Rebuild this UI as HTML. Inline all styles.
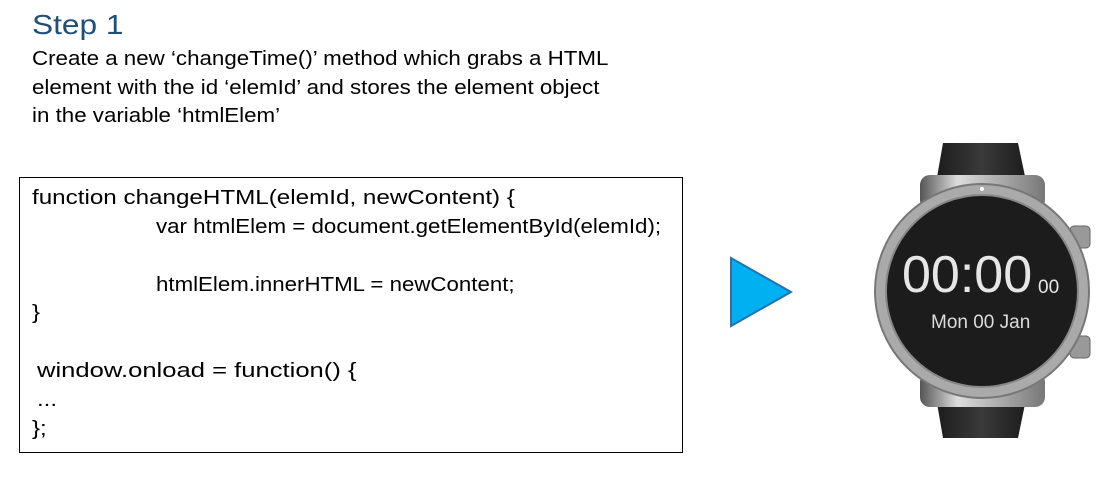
<!DOCTYPE html>
<html><head><style>
body{margin:0;width:1111px;height:477px;background:#fff;font-family:"Liberation Sans",sans-serif;position:relative;overflow:hidden}
.t{position:absolute;white-space:nowrap;transform-origin:0 0}
.p{font-size:20px;transform:scaleX(1.116)}
.c{font-size:20px;transform:scaleX(1.2)}
</style></head><body>
<div class="t" style="left:32px;top:9px;font-size:28px;color:#1f4e79;transform:scaleX(1.13)">Step 1</div>
<div class="t p" style="left:32px;top:48px">Create a new ‘changeTime()’ method which grabs a HTML</div>
<div class="t p" style="left:32px;top:77px">element with the id ‘elemId’ and stores the element object</div>
<div class="t p" style="left:32px;top:105px">in the variable ‘htmlElem’</div>
<div style="position:absolute;left:19px;top:177px;width:664px;height:276px;border:1px solid #000;box-sizing:border-box"></div>
<div class="t c" style="left:32px;top:187px;transform:scaleX(1.21)">function changeHTML(elemId, newContent) {</div>
<div class="t c" style="left:156px;top:216px;transform:scaleX(1.115)">var htmlElem = document.getElementById(elemId);</div>
<div class="t c" style="left:156px;top:274px;transform:scaleX(1.113)">htmlElem.innerHTML = newContent;</div>
<div class="t c" style="left:32px;top:302px">}</div>
<div class="t c" style="left:37px;top:360px;transform:scaleX(1.28)">window.onload = function() {</div>
<div class="t c" style="left:37px;top:389px">...</div>
<div class="t c" style="left:32px;top:418px">};</div>
<svg width="1111" height="477" style="position:absolute;left:0;top:0">
<polygon points="731,258 791,292 731,326" fill="#00b0f0" stroke="#2e6fa8" stroke-width="2"/>
<defs>
<linearGradient id="st" x1="0" x2="1"><stop offset="0" stop-color="#1a1a1a"/><stop offset="0.5" stop-color="#3a3a3a"/><stop offset="1" stop-color="#1a1a1a"/></linearGradient>
<linearGradient id="lg" x1="0" x2="1"><stop offset="0" stop-color="#555"/><stop offset="0.3" stop-color="#ddd"/><stop offset="1" stop-color="#777"/></linearGradient>
</defs>
<path d="M943,143 L1018,143 L1030,200 L1030,380 L1018,438 L943,438 L933,380 L933,200 Z" fill="url(#st)"/>
<rect x="920" y="175" width="125" height="35" rx="10" fill="url(#lg)"/>
<rect x="920" y="372" width="125" height="35" rx="10" fill="url(#lg)"/>
<rect x="1070" y="226" width="20" height="22" rx="4" fill="#999" stroke="#666"/>
<rect x="1070" y="336" width="20" height="22" rx="4" fill="#999" stroke="#666"/>
<circle cx="982" cy="291" r="107" fill="#aaa" stroke="#777" stroke-width="2"/>
<circle cx="982" cy="291" r="96" fill="#1c1c1c" stroke="#888" stroke-width="2"/>
<circle cx="982" cy="189" r="2" fill="#fff"/>
<text x="902" y="292" font-size="52" fill="#e6e6e6" font-family="Liberation Sans">00:00</text>
<text x="1038" y="293" font-size="19" fill="#e6e6e6" font-family="Liberation Sans">00</text>
<text x="931" y="328" font-size="19" fill="#dcdcdc" font-family="Liberation Sans">Mon 00 Jan</text>
</svg>
</body></html>
